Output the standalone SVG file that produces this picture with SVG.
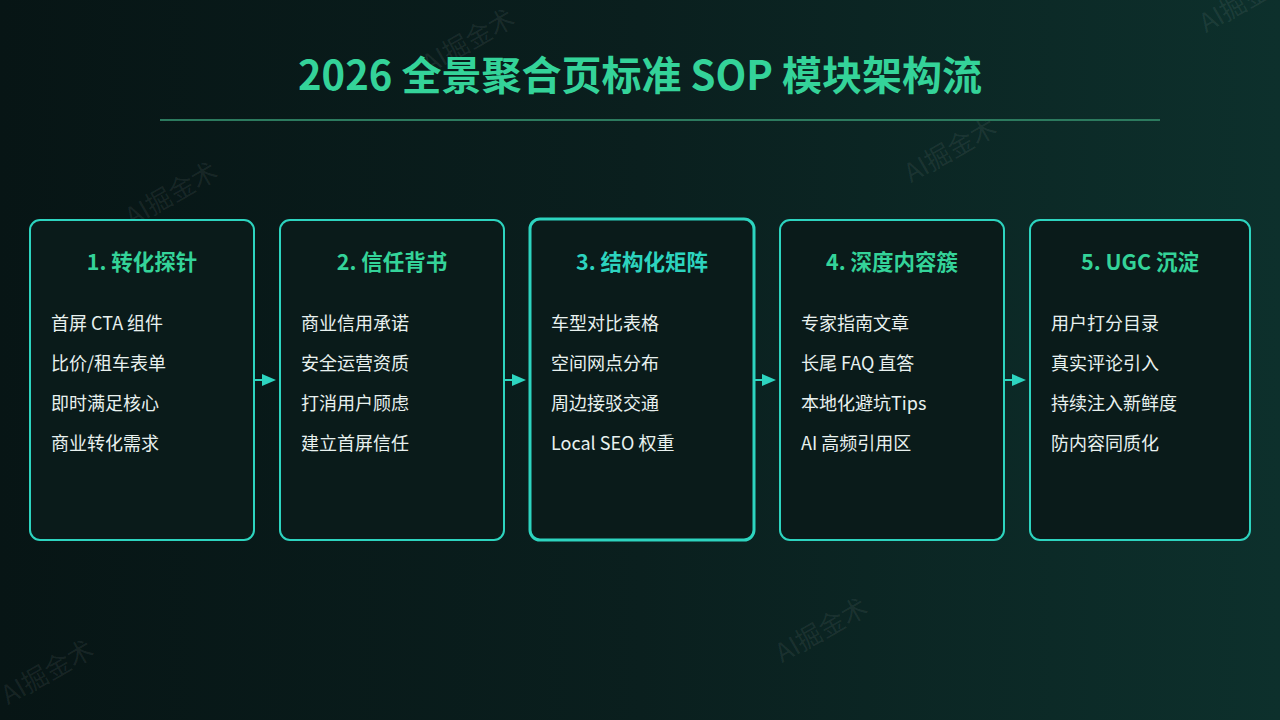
<svg xmlns="http://www.w3.org/2000/svg" width="1280" height="720" viewBox="0 0 1280 720">
<defs>
<linearGradient id="bg" x1="0" y1="0" x2="1" y2="0">
<stop offset="0" stop-color="#071515"/>
<stop offset="0.5" stop-color="#0a1f1e"/>
<stop offset="1" stop-color="#0d302c"/>
</linearGradient>
<marker id="ah" markerWidth="14" markerHeight="12" refX="0" refY="6" orient="auto" markerUnits="userSpaceOnUse">
<path d="M0,0 L14,6 L0,12 Z" fill="#2dd4bf"/>
</marker>
<style>
.card{fill:#0a1b1a;stroke:#2dd4bf;stroke-width:2}
.card.hl{stroke-width:3}
.h{font-family:"Noto Sans CJK SC","Noto Sans",sans-serif;font-weight:700;font-size:21.5px;fill:#34d399;text-anchor:middle}
.h.hl{fill:#2dd4bf}
.it{font-family:"Noto Sans CJK SC","Noto Sans",sans-serif;font-size:18px;fill:#e8f1ef}
.wm{font-family:"Noto Sans CJK SC","Noto Sans",sans-serif;font-size:26px;fill:#ffffff;fill-opacity:0.07;text-anchor:middle}
.conn{stroke:#2dd4bf;stroke-width:2;fill:none}
</style>
</defs>
<rect width="1280" height="720" fill="url(#bg)"/>
<g id="watermarks">
<text class="wm" transform="translate(473,49) rotate(-30)">AI掘金术</text>
<text class="wm" transform="translate(176,202) rotate(-30)">AI掘金术</text>
<text class="wm" transform="translate(955,158) rotate(-30)">AI掘金术</text>
<text class="wm" transform="translate(655,333) rotate(-30)">AI掘金术</text>
<text class="wm" transform="translate(351,508) rotate(-30)">AI掘金术</text>
<text class="wm" transform="translate(1131,466) rotate(-30)">AI掘金术</text>
<text class="wm" transform="translate(826,638) rotate(-30)">AI掘金术</text>
<text class="wm" transform="translate(52,680) rotate(-30)">AI掘金术</text>
<text class="wm" transform="translate(1250,8) rotate(-30)">AI掘金术</text>
</g>
<g id="title">
<text x="640" y="90" text-anchor="middle" font-family="Noto Sans CJK SC,Noto Sans,sans-serif" font-weight="700" font-size="40" fill="#34d399">2026 全景聚合页标准 SOP 模块架构流</text>
<line x1="160" y1="120" x2="1160" y2="120" stroke="#2c7a5e" stroke-width="2"/>
</g>
<g id="connectors">
<line class="conn" x1="255" y1="380" x2="262" y2="380" marker-end="url(#ah)"/>
<line class="conn" x1="505" y1="380" x2="512" y2="380" marker-end="url(#ah)"/>
<line class="conn" x1="755" y1="380" x2="762" y2="380" marker-end="url(#ah)"/>
<line class="conn" x1="1005" y1="380" x2="1012" y2="380" marker-end="url(#ah)"/>
</g>
<g id="node1">
<rect class="card" x="30" y="220" width="224" height="320" rx="10"/>
<text class="h" x="142" y="270">1. 转化探针</text>
<text class="it" x="51" y="330">首屏 CTA 组件</text>
<text class="it" x="51" y="370">比价/租车表单</text>
<text class="it" x="51" y="410">即时满足核心</text>
<text class="it" x="51" y="450">商业转化需求</text>
</g>
<g id="node2">
<rect class="card" x="280" y="220" width="224" height="320" rx="10"/>
<text class="h" x="392" y="270">2. 信任背书</text>
<text class="it" x="301" y="330">商业信用承诺</text>
<text class="it" x="301" y="370">安全运营资质</text>
<text class="it" x="301" y="410">打消用户顾虑</text>
<text class="it" x="301" y="450">建立首屏信任</text>
</g>
<g id="node3">
<rect class="card hl" x="530" y="219" width="224" height="321" rx="10"/>
<text class="h hl" x="642" y="270">3. 结构化矩阵</text>
<text class="it" x="551" y="330">车型对比表格</text>
<text class="it" x="551" y="370">空间网点分布</text>
<text class="it" x="551" y="410">周边接驳交通</text>
<text class="it" x="551" y="450">Local SEO 权重</text>
</g>
<g id="node4">
<rect class="card" x="780" y="220" width="224" height="320" rx="10"/>
<text class="h" x="892" y="270">4. 深度内容簇</text>
<text class="it" x="801" y="330">专家指南文章</text>
<text class="it" x="801" y="370">长尾 FAQ 直答</text>
<text class="it" x="801" y="410">本地化避坑Tips</text>
<text class="it" x="801" y="450">AI 高频引用区</text>
</g>
<g id="node5">
<rect class="card" x="1030" y="220" width="220" height="320" rx="10"/>
<text class="h" x="1140" y="270">5. UGC 沉淀</text>
<text class="it" x="1051" y="330">用户打分目录</text>
<text class="it" x="1051" y="370">真实评论引入</text>
<text class="it" x="1051" y="410">持续注入新鲜度</text>
<text class="it" x="1051" y="450">防内容同质化</text>
</g>
</svg>
